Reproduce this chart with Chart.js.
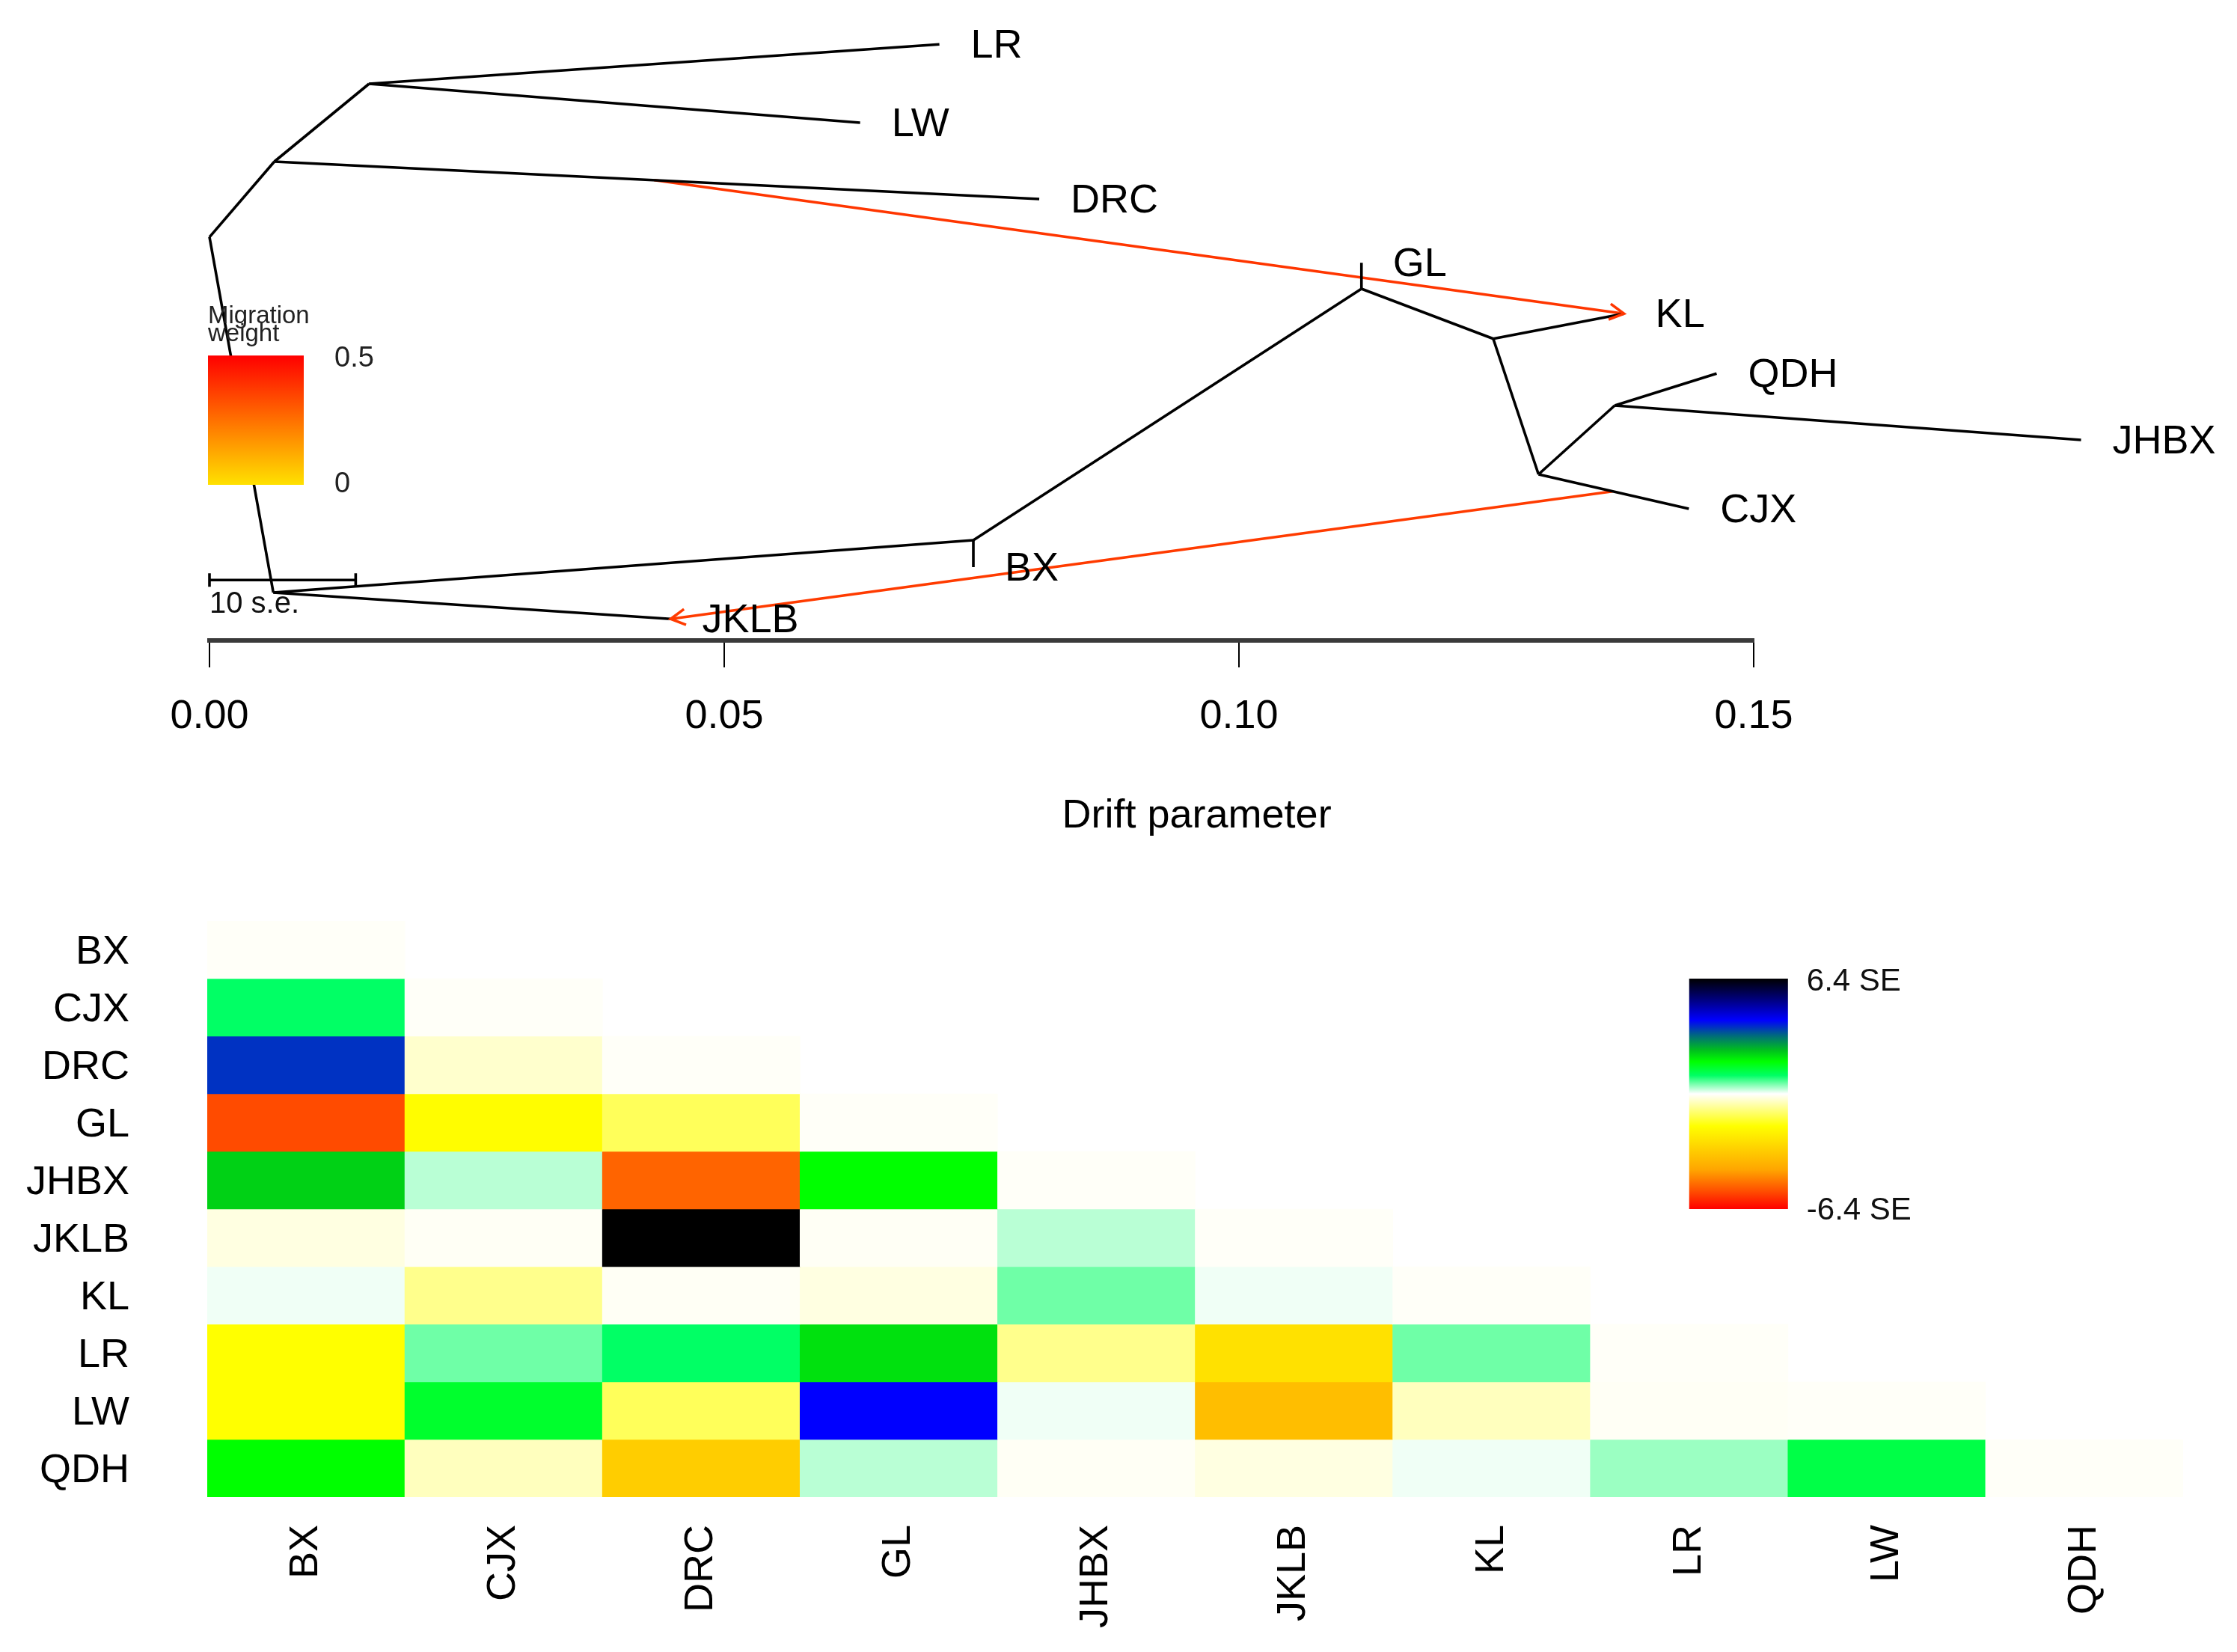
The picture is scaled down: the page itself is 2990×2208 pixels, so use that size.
<!DOCTYPE html>
<html>
<head>
<meta charset="utf-8">
<title>TreeMix tree and residuals</title>
<script src="https://cdn.jsdelivr.net/npm/chart.js@4.4.1/dist/chart.umd.min.js"></script>
<style>
  html, body { margin: 0; padding: 0; background: #fff; }
  #wrap { position: relative; width: 2990px; height: 2208px; }
  canvas { position: absolute; left: 0; }
  #treeChart { top: 0; }
  #residChart { top: 1150px; }
</style>
</head>
<body>
<div id="wrap">
  <canvas id="treeChart" width="2990" height="1150"></canvas>
  <canvas id="residChart" width="2990" height="1058"></canvas>
</div>
<script>
// ---- tree: node drift (x) and plotted height (y, 0..1) ----
const nodeIds   = ['root', 'n1', 'n2', 'LR', 'LW', 'DRC', 'n3', 'JKLB', 'n4', 'BX', 'n5', 'GL', 'n6', 'KL', 'n7', 'n8', 'QDH', 'JHBX', 'CJX'];
const nodeDrift = [0.0, 0.0063, 0.0155, 0.0709, 0.0632, 0.0806, 0.0062, 0.0448, 0.0742, 0.0742, 0.1119, 0.1119, 0.1247, 0.1374, 0.1291, 0.1365, 0.1464, 0.1818, 0.1437];
const nodeY     = [0.674, 0.800, 0.930, 0.996, 0.865, 0.7375, 0.080, 0.036, 0.1675, 0.1225, 0.5875, 0.631, 0.504, 0.546, 0.2775, 0.3925, 0.446, 0.335, 0.220];
const edges = [
  ['root', 'n1'], ['n1', 'n2'], ['n2', 'LR'], ['n2', 'LW'], ['n1', 'DRC'],
  ['root', 'n3'], ['n3', 'JKLB'], ['n3', 'n4'], ['n4', 'BX'], ['n4', 'n5'],
  ['n5', 'GL'], ['n5', 'n6'], ['n6', 'KL'], ['n6', 'n7'], ['n7', 'n8'],
  ['n8', 'QDH'], ['n8', 'JHBX'], ['n7', 'CJX']
];
const tips = ['LR', 'LW', 'DRC', 'JKLB', 'BX', 'GL', 'KL', 'QDH', 'JHBX', 'CJX'];

// migration edges
const migFromDrift = [0.0432, 0.1363];
const migFromY     = [0.769, 0.249];
const migTo        = ['KL', 'JKLB'];
const migWeight    = [0.38, 0.37];

const driftTicks = [0, 0.05, 0.10, 0.15];
const scaleBarDrift = 0.0142; // 10 s.e.

// ---- residuals (SE units), lower triangle ----
const pops = ['BX', 'CJX', 'DRC', 'GL', 'JHBX', 'JKLB', 'KL', 'LR', 'LW', 'QDH'];
const resid = [
  [-0.05],
  [1.02, -0.05],
  [3.69, -0.35, -0.05],
  [-5.44, -1.85, -1.16, -0.05],
  [2.24, 0.28, -5.11, 1.79, -0.05],
  [-0.21, -0.07, 6.40, -0.07, 0.28, -0.05],
  [0.06, -0.81, -0.07, -0.21, 0.58, 0.06, -0.05],
  [-1.79, 0.58, 1.02, 2.09, -0.81, -2.60, 0.58, -0.05],
  [-1.79, 1.45, -1.16, 4.10, 0.06, -3.55, -0.46, -0.07, -0.05],
  [1.79, -0.46, -3.15, 0.28, -0.07, -0.21, 0.06, 0.40, 1.25, -0.05]
];
const seMax = 6.4;

const FONT = '"Liberation Sans", Arial, Helvetica, sans-serif';

// colour ramp for residuals (red -> yellow -> white -> green -> blue -> black)
const rampPos = [0, 0.08, 0.17, 0.36, 0.5, 0.58, 0.64, 0.69, 0.75, 0.82, 0.92, 1];
const rampRGB = [[255, 0, 0], [255, 80, 0], [255, 165, 0], [255, 255, 0], [255, 255, 255], [0, 255, 100],
                 [0, 255, 0], [0, 190, 30], [0, 110, 120], [0, 0, 255], [0, 0, 110], [0, 0, 0]];

function rampColor(t) {
  t = Math.max(0, Math.min(1, t));
  for (let k = 1; k < rampPos.length; k++) {
    if (t <= rampPos[k]) {
      const f = (t - rampPos[k - 1]) / (rampPos[k] - rampPos[k - 1]);
      const a = rampRGB[k - 1], b = rampRGB[k];
      const c = a.map((v, i) => Math.round(v + (b[i] - v) * f));
      return `rgb(${c[0]},${c[1]},${c[2]})`;
    }
  }
  return 'rgb(0,0,0)';
}
function residColor(v) { return rampColor((v + seMax) / (2 * seMax)); }
function migColor(w) {
  const g = Math.round(225 * (1 - Math.min(w, 0.5) / 0.5));
  return `rgb(255,${g},0)`;
}

function node(id) {
  const i = nodeIds.indexOf(id);
  return { x: nodeDrift[i], y: nodeY[i] };
}

// ---------------- tree chart ----------------
const treeDatasets = edges.map(e => ({
  data: [node(e[0]), node(e[1])],
  showLine: true, borderColor: '#000', borderWidth: 3.6, pointRadius: 0, clip: false
}));
migTo.forEach((to, i) => {
  treeDatasets.push({
    data: [{ x: migFromDrift[i], y: migFromY[i] }, node(to)],
    showLine: true, borderColor: migColor(migWeight[i]), borderWidth: 3.6, pointRadius: 0, clip: false
  });
});

const treeDecor = {
  id: 'treeDecor',
  afterDatasetsDraw(chart) {
    const ctx = chart.ctx, xs = chart.scales.x, ys = chart.scales.y;
    ctx.save();

    // arrow heads
    migTo.forEach((to, i) => {
      const p = node(to);
      const x1 = xs.getPixelForValue(migFromDrift[i]), y1 = ys.getPixelForValue(migFromY[i]);
      const x2 = xs.getPixelForValue(p.x), y2 = ys.getPixelForValue(p.y);
      const a = Math.atan2(y2 - y1, x2 - x1), len = 22;
      ctx.strokeStyle = migColor(migWeight[i]);
      ctx.lineWidth = 3.6;
      ctx.beginPath();
      ctx.moveTo(x2 - len * Math.cos(a - 0.5), y2 - len * Math.sin(a - 0.5));
      ctx.lineTo(x2, y2);
      ctx.lineTo(x2 - len * Math.cos(a + 0.5), y2 - len * Math.sin(a + 0.5));
      ctx.stroke();
    });

    // migration weight legend
    const lx0 = xs.getPixelForValue(0) - 2, lx1 = lx0 + 128;
    const ly0 = ys.getPixelForValue(0.476), ly1 = ys.getPixelForValue(0.26);
    const grad = ctx.createLinearGradient(0, ly0, 0, ly1);
    grad.addColorStop(0, 'rgb(255,0,0)');
    grad.addColorStop(1, 'rgb(255,225,0)');
    ctx.fillStyle = grad;
    ctx.fillRect(lx0, ly0, lx1 - lx0, ly1 - ly0);
    ctx.fillStyle = '#222';
    ctx.font = `33px ${FONT}`;
    ctx.textAlign = 'left';
    ctx.textBaseline = 'alphabetic';
    ctx.fillText('Migration', lx0, ly0 - 43);
    ctx.fillText('weight', lx0, ly0 - 19);
    ctx.font = `38px ${FONT}`;
    ctx.textBaseline = 'middle';
    ctx.fillText('0.5', lx1 + 41, ly0 + 4);
    ctx.fillText('0', lx1 + 41, ly1);

    // scale bar
    const sx0 = xs.getPixelForValue(0), sx1 = xs.getPixelForValue(scaleBarDrift);
    const sy = ys.getPixelForValue(0.101);
    ctx.strokeStyle = '#000';
    ctx.lineWidth = 3.6;
    ctx.beginPath();
    ctx.moveTo(sx0, sy); ctx.lineTo(sx1, sy);
    ctx.moveTo(sx0, sy - 9); ctx.lineTo(sx0, sy + 9);
    ctx.moveTo(sx1, sy - 9); ctx.lineTo(sx1, sy + 9);
    ctx.stroke();
    ctx.fillStyle = '#111';
    ctx.font = `40px ${FONT}`;
    ctx.textBaseline = 'alphabetic';
    ctx.fillText('10 s.e.', sx0, sy + 44);

    // tip labels
    ctx.font = `54px ${FONT}`;
    ctx.textBaseline = 'middle';
    ctx.fillStyle = '#000';
    tips.forEach(t => {
      const p = node(t);
      ctx.fillText(t, xs.getPixelForValue(p.x) + 42, ys.getPixelForValue(p.y) + 3);
    });

    // axis title
    ctx.textAlign = 'center';
    ctx.fillText('Drift parameter', xs.getPixelForValue(0.0959), 1091);
    ctx.restore();
  }
};

new Chart(document.getElementById('treeChart'), {
  type: 'scatter',
  data: { datasets: treeDatasets },
  options: {
    responsive: false,
    animation: false,
    devicePixelRatio: 1,
    layout: { padding: { left: 280, right: 646, top: 56, bottom: 0 } },
    plugins: { legend: { display: false }, tooltip: { enabled: false } },
    scales: {
      x: {
        type: 'linear', min: 0, max: 0.15, position: 'bottom',
        afterBuildTicks: s => { s.ticks = driftTicks.map(v => ({ value: v })); },
        afterFit: s => { s.height = 294; },
        ticks: { callback: v => Number(v).toFixed(2), font: { family: FONT, size: 54 }, color: '#000', padding: 34, maxRotation: 0 },
        grid: { drawOnChartArea: false, drawTicks: true, tickLength: 36, color: '#000', lineWidth: 2 },
        border: { display: true, color: '#3a3a3a', width: 6 }
      },
      y: { type: 'linear', min: 0, max: 1, display: false }
    }
  },
  plugins: [treeDecor]
});

// ---------------- residual heat map ----------------
const n = pops.length;
const residDatasets = pops.map((p, i) => ({
  label: p,
  data: pops.map((q, j) => (j <= i ? [n - 1 - i, n - i] : null)),
  backgroundColor: pops.map((q, j) => (j <= i ? residColor(resid[i][j]) : 'rgba(0,0,0,0)')),
  borderWidth: 0,
  grouped: false,
  barPercentage: 1,
  categoryPercentage: 1
}));

const residLegend = {
  id: 'residLegend',
  afterDraw(chart) {
    const ctx = chart.ctx, xs = chart.scales.x, ys = chart.scales.y;
    const cw = (xs.right - xs.left) / n;
    const left = xs.left + 7.5 * cw, right = xs.left + 8.0 * cw;
    const top = ys.getPixelForValue(9), bottom = ys.getPixelForValue(5);
    ctx.save();
    const grad = ctx.createLinearGradient(0, bottom, 0, top);
    rampPos.forEach(t => grad.addColorStop(t, rampColor(t)));
    ctx.fillStyle = grad;
    ctx.fillRect(left, top, right - left, bottom - top);
    ctx.fillStyle = '#111';
    ctx.font = `42px ${FONT}`;
    ctx.textAlign = 'left';
    ctx.textBaseline = 'middle';
    ctx.fillText(seMax + ' SE', right + 25, top + 4);
    ctx.fillText('-' + seMax + ' SE', right + 25, bottom + 2);
    ctx.restore();
  }
};

new Chart(document.getElementById('residChart'), {
  type: 'bar',
  data: { labels: pops, datasets: residDatasets },
  options: {
    responsive: false,
    animation: false,
    devicePixelRatio: 1,
    layout: { padding: { left: 0, right: 72, top: 81, bottom: 0 } },
    plugins: { legend: { display: false }, tooltip: { enabled: false } },
    scales: {
      x: {
        type: 'category',
        grid: { display: false }, border: { display: false },
        afterFit: s => { s.height = 207; s.paddingLeft = 0; s.paddingRight = 0; },
        ticks: { font: { family: FONT, size: 54 }, color: '#000', minRotation: 90, maxRotation: 90, padding: 29, autoSkip: false }
      },
      y: {
        type: 'linear', min: 0, max: n,
        grid: { display: false }, border: { display: false },
        afterFit: s => { s.width = 277; s.paddingTop = 0; s.paddingBottom = 0; },
        afterBuildTicks: s => { s.ticks = pops.map((p, i) => ({ value: n - 1 - i + 0.45 })); },
        ticks: { callback: v => pops[n - 1 - Math.floor(v)], font: { family: FONT, size: 54 }, color: '#000', padding: 96 }
      }
    }
  },
  plugins: [residLegend]
});
</script>
</body>
</html>
